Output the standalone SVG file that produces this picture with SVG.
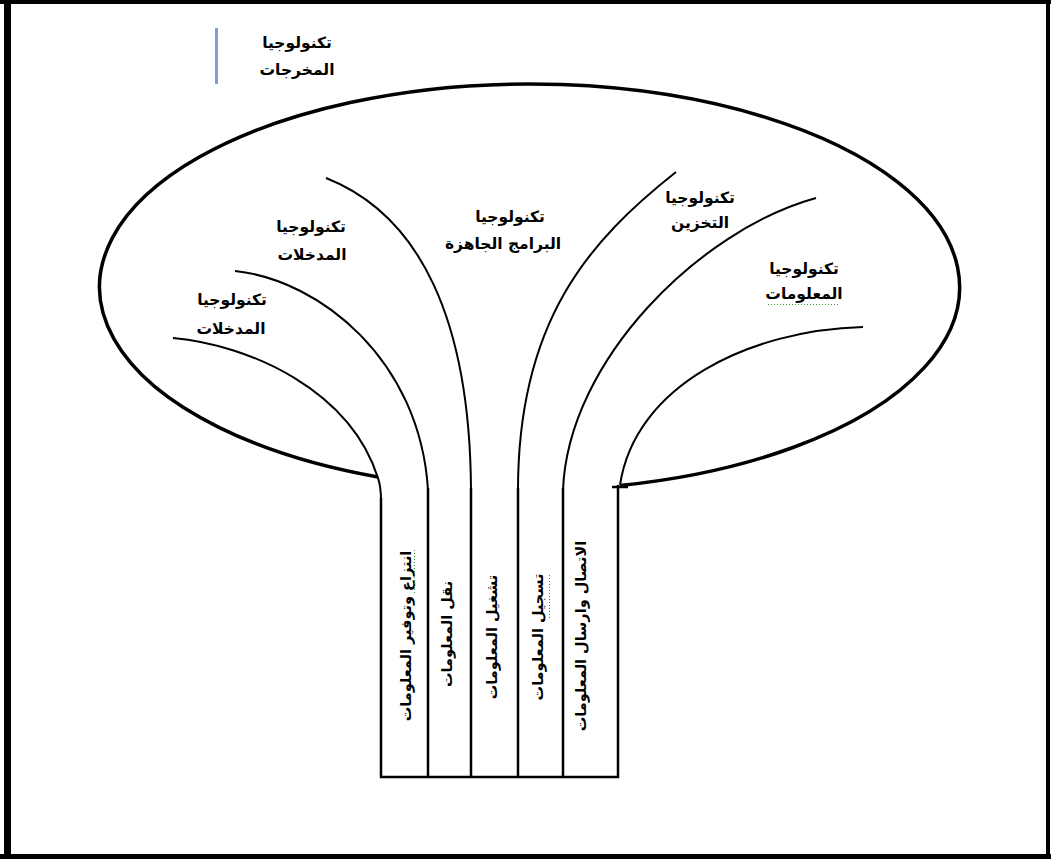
<svg xmlns="http://www.w3.org/2000/svg" width="1051" height="859" viewBox="0 0 1051 859">
<style>
.frame{stroke:#000;fill:none}
.crown{stroke:#000;stroke-width:3.5;fill:none}
.branch{stroke:#000;stroke-width:2;fill:none}
.stem{stroke:#000;stroke-width:2.5;fill:none}
.lbl{font-family:"DejaVu Sans","Liberation Sans",sans-serif;font-size:15.5px;font-weight:bold;fill:#000;text-anchor:middle}
.vt{font-family:"DejaVu Sans","Liberation Sans",sans-serif;font-size:14.5px;font-weight:bold;fill:#000;text-anchor:middle}
.spell{stroke:#2e9a2e;stroke-width:1;stroke-dasharray:1 2;fill:none}
</style>
<rect x="0" y="0" width="1051" height="859" fill="#fff"/>
<g id="frame">
<line class="frame" x1="0" y1="2" x2="1051" y2="2" stroke-width="4"/>
<line class="frame" x1="7.5" y1="0" x2="7.5" y2="859" stroke-width="7"/>
<line class="frame" x1="0" y1="856.5" x2="1051" y2="856.5" stroke-width="5"/>
<line class="frame" x1="1048" y1="0" x2="1048" y2="859" stroke-width="4"/>
</g>
<g id="crown">
<path class="crown" d="M378,477 A430,203 0 1 1 620,485.5"/>
</g>
<g id="connectors">
<path class="branch" d="M173,338 C250,345 350,390 378,478 Q381,487 381,500"/>
<path class="branch" d="M235,271 C320,280 420,360 428,490"/>
<path class="branch" d="M326,178 C420,215 470,320 471,490"/>
<path class="branch" d="M676,172 C590,240 518,320 518,490"/>
<path class="branch" d="M816,198 C700,230 568,360 563,490"/>
<path class="branch" d="M863,327 C750,330 635,385 620,485"/>
</g>
<g id="stem">
<path class="stem" d="M381,498 L381,777 L618,777 L618,485"/>
<line class="stem" x1="428" y1="488" x2="428" y2="777"/>
<line class="stem" x1="471" y1="488" x2="471" y2="777"/>
<line class="stem" x1="518" y1="488" x2="518" y2="777"/>
<line class="stem" x1="563" y1="488" x2="563" y2="777"/>
<line class="stem" x1="612" y1="487" x2="628" y2="487" stroke-width="1.5"/>
</g>
<g id="legend-outputs">
<line x1="216.5" y1="28" x2="216.5" y2="84" stroke="#7f9fcf" stroke-width="3"/>
<text class="lbl" x="297" y="48">تكنولوجيا</text>
<text class="lbl" x="297" y="75">المخرجات</text>
</g>
<g id="label-inputs-1">
<text class="lbl" x="232" y="305">تكنولوجيا</text>
<text class="lbl" x="231" y="334">المدخلات</text>
</g>
<g id="label-inputs-2">
<text class="lbl" x="311" y="232">تكنولوجيا</text>
<text class="lbl" x="312" y="260">المدخلات</text>
</g>
<g id="label-software">
<text class="lbl" x="510" y="222">تكنولوجيا</text>
<text class="lbl" x="503" y="249">البرامج الجاهزة</text>
</g>
<g id="label-storage">
<text class="lbl" x="700" y="203">تكنولوجيا</text>
<text class="lbl" x="700" y="228">التخزين</text>
</g>
<g id="label-information">
<text class="lbl" x="804" y="274">تكنولوجيا</text>
<text class="lbl" x="804" y="299">المعلومات</text>
<line class="spell" x1="768" y1="304.5" x2="840" y2="304.5"/>
</g>
<g id="col-extract">
<text class="vt" transform="translate(411,636) rotate(-90)">انتزاع وتوفير المعلومات</text>
<line class="spell" x1="414.5" y1="550" x2="414.5" y2="593"/>
</g>
<g id="col-transfer">
<text class="vt" transform="translate(452,634) rotate(-90)">نقل  المعلومات</text>
</g>
<g id="col-processing">
<text class="vt" transform="translate(497,637) rotate(-90)">تشغيل المعلومات</text>
</g>
<g id="col-recording">
<text class="vt" transform="translate(543,637) rotate(-90)">تسجيل المعلومات</text>
<line class="spell" x1="549.5" y1="575" x2="549.5" y2="618"/>
</g>
<g id="col-communication">
<text class="vt" transform="translate(586,636) rotate(-90)">الاتصال وارسال المعلومات</text>
</g>
</svg>
